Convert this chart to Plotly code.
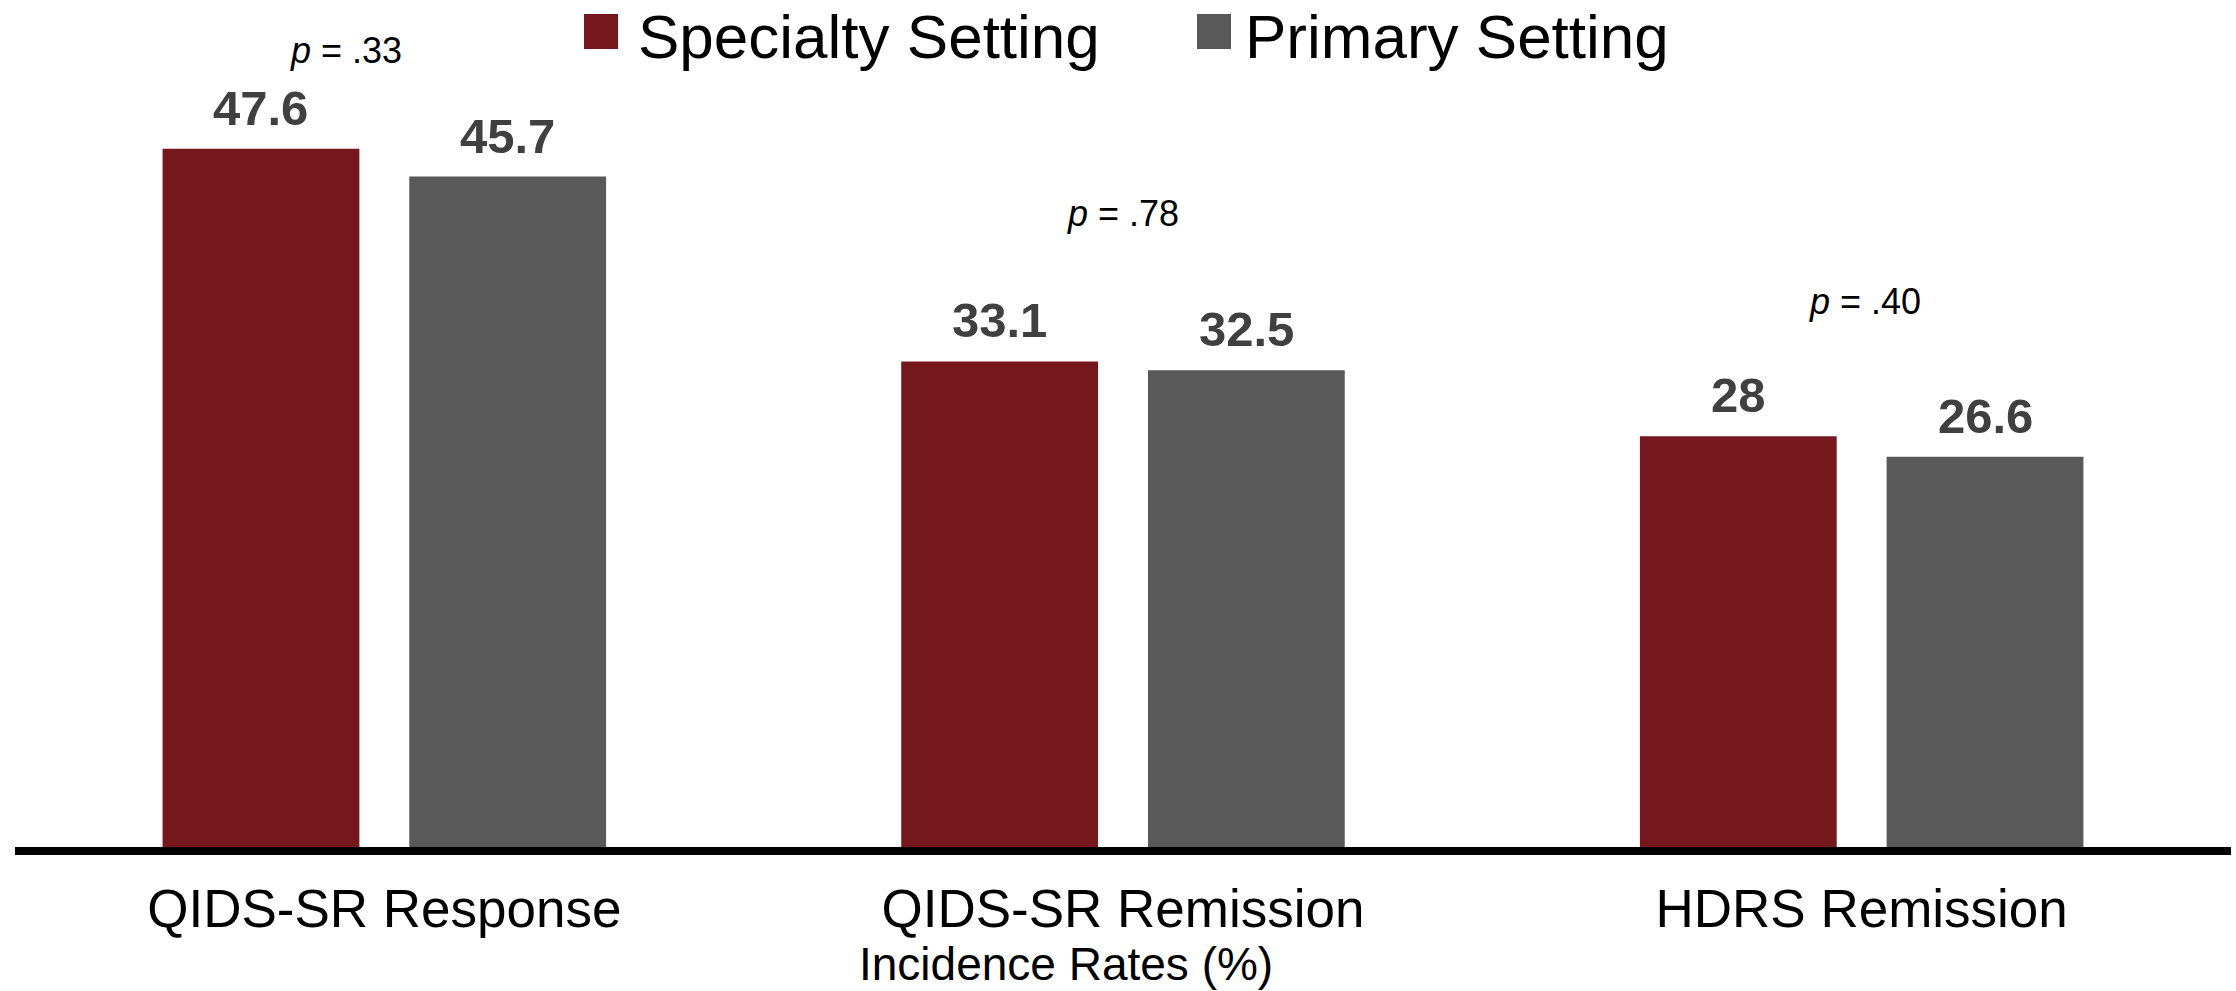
import plotly.graph_objects as go

# ---- data ----
categories = ["QIDS-SR Response", "QIDS-SR Remission", "HDRS Remission"]
series_names = ["Specialty Setting", "Primary Setting"]
specialty = [47.6, 33.1, 28]
primary = [45.7, 32.5, 26.6]
p_labels = ["<i>p</i> = .33", "<i>p</i> = .78", "<i>p</i> = .40"]
axis_title = "Incidence Rates (%)"

# ---- style / layout constants ----
W, H = 2236, 991
ML, MR, MT, MB = 15, 5, 10, 144
PW, PH = W - ML - MR, H - MT - MB
PX_PER_UNIT = 14.67
Y_TOP = PH / PX_PER_UNIT
BARGAP = 0.332
BARGROUPGAP = 0.2023
RED = "#76171E"
GRAY = "#595959"
LABEL_COLOR = "#404040"
FONT = "Liberation Sans, Arial, sans-serif"

xs = list(range(len(categories)))
slot = (1 - BARGAP) / 2
offsets = [-slot / 2, slot / 2]

# p-value label positions (data coords)
p_pos_x = [-0.052, 1.0, 2.005]
p_pos_y = [54.3, 43.15, 37.2]

fig = go.Figure()
for name, vals, col in [(series_names[0], specialty, RED), (series_names[1], primary, GRAY)]:
    fig.add_trace(go.Bar(x=xs, y=vals, name=name, marker=dict(color=col, line=dict(width=0)),
                         showlegend=False, hoverinfo="skip"))

annotations = []
# value labels
for vals, off in [(specialty, offsets[0]), (primary, offsets[1])]:
    for i, v in enumerate(vals):
        annotations.append(dict(x=xs[i] + off, y=v, xref="x", yref="y", text=f"{v:g}",
                                showarrow=False, yanchor="middle", yshift=41,
                                font=dict(family=FONT, size=49, color=LABEL_COLOR, weight="bold")))
# p-values
for t, px, py in zip(p_labels, p_pos_x, p_pos_y):
    annotations.append(dict(x=px, y=py, xref="x", yref="y", text=t, showarrow=False,
                            yanchor="middle", font=dict(family=FONT, size=36, color="#000000")))

def paper_x(px):
    return (px - ML) / PW

def paper_y(py):
    return (H - MB - py) / PH

# axis title
annotations.append(dict(x=paper_x(1066), y=paper_y(964), xref="paper", yref="paper",
                        text=axis_title, showarrow=False, xanchor="center", yanchor="middle",
                        borderpad=0,
                        font=dict(family=FONT, size=46, color="#000000")))

# manual legend
shapes = []
legend_items = [(series_names[0], RED, 584, 637), (series_names[1], GRAY, 1197, 1244)]
for name, col, sq_x, tx_x in legend_items:
    shapes.append(dict(type="rect", xref="paper", yref="paper",
                       x0=paper_x(sq_x), x1=paper_x(sq_x + 34),
                       y0=paper_y(49), y1=paper_y(14),
                       fillcolor=col, line=dict(width=0)))
    annotations.append(dict(x=paper_x(tx_x), y=paper_y(36), xref="paper", yref="paper",
                            text=name, showarrow=False, xanchor="left", yanchor="middle",
                            borderpad=0,
                            font=dict(family=FONT, size=62, color="#000000")))

fig.update_layout(
    width=W, height=H,
    margin=dict(l=ML, r=MR, t=MT, b=MB, pad=0),
    paper_bgcolor="white", plot_bgcolor="white",
    barmode="group", bargap=BARGAP, bargroupgap=BARGROUPGAP,
    showlegend=False,
    annotations=annotations,
    shapes=shapes,
    font=dict(family=FONT),
    xaxis=dict(range=[-0.5, len(categories) - 0.5], tickvals=xs, ticktext=categories,
               showline=True, linecolor="#000000", linewidth=8, ticks="",
               ticklabelstandoff=8,
               showgrid=False, zeroline=False,
               tickfont=dict(family=FONT, size=53, color="#000000")),
    yaxis=dict(range=[0, Y_TOP], visible=False, showgrid=False, zeroline=False),
)

fig.write_html("out.html")
